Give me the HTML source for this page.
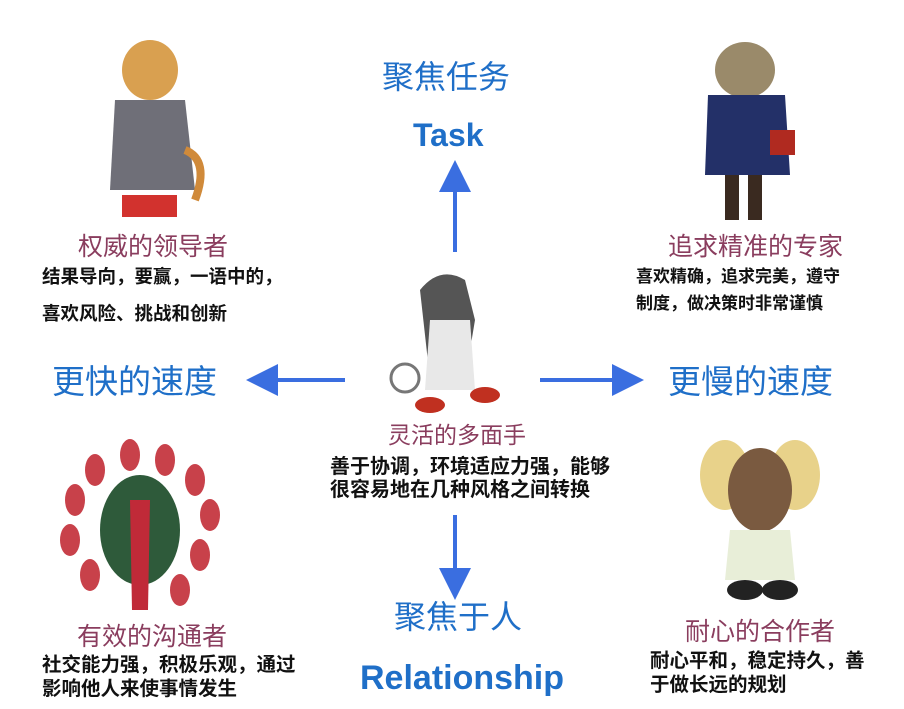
<!DOCTYPE html>
<html><head><meta charset="utf-8"><style>
body{margin:0;width:904px;height:709px;background:#fff;position:relative;overflow:hidden;font-family:"Liberation Sans","Noto Sans CJK SC",sans-serif}
.t{position:absolute;white-space:nowrap;line-height:1}
.h{color:#1f6fc8;font-size:33px}
.m{color:#8a3d5e;font-size:25px}
.b{color:#111;font-weight:bold}
</style></head><body>
<svg width="904" height="709" style="position:absolute;left:0;top:0">
<defs><marker id="a" markerWidth="8" markerHeight="8" refX="4" refY="4" orient="auto"><path d="M0,0L8,4L0,8z" fill="#3a6ee0"/></marker></defs>
<g stroke="#3a6ee0" stroke-width="4" fill="none">
<line x1="455" y1="252" x2="455" y2="176" marker-end="url(#a)"/>
<line x1="345" y1="380" x2="262" y2="380" marker-end="url(#a)"/>
<line x1="540" y1="380" x2="628" y2="380" marker-end="url(#a)"/>
<line x1="455" y1="515" x2="455" y2="584" marker-end="url(#a)"/>
</g>
<ellipse cx="150" cy="70" rx="28" ry="30" fill="#d9a050"/>
<path d="M115 100 L185 100 L195 190 L110 190z" fill="#6f6f78"/>
<rect x="122" y="195" width="55" height="22" fill="#d2322e"/>
<path d="M185 150 q25 10 10 50" stroke="#d08a3a" stroke-width="8" fill="none"/>
<ellipse cx="745" cy="70" rx="30" ry="28" fill="#9a8a6a"/>
<path d="M708 95 L785 95 L790 175 L705 175z" fill="#233068"/>
<rect x="725" y="175" width="14" height="45" fill="#3a2a20"/><rect x="748" y="175" width="14" height="45" fill="#3a2a20"/>
<rect x="770" y="130" width="25" height="25" fill="#b02a20"/>
<path d="M420 290 q20 -25 45 -10 l10 40 l-10 60 l-35 0z" fill="#555"/>
<path d="M430 320 L470 320 L475 390 L425 390z" fill="#e8e8e8"/>
<circle cx="405" cy="378" r="14" fill="none" stroke="#777" stroke-width="3"/>
<ellipse cx="430" cy="405" rx="15" ry="8" fill="#c03020"/><ellipse cx="485" cy="395" rx="15" ry="8" fill="#c03020"/>
<g fill="#c8414a">
<ellipse cx="75" cy="500" rx="10" ry="16"/><ellipse cx="95" cy="470" rx="10" ry="16"/><ellipse cx="130" cy="455" rx="10" ry="16"/><ellipse cx="165" cy="460" rx="10" ry="16"/><ellipse cx="195" cy="480" rx="10" ry="16"/><ellipse cx="210" cy="515" rx="10" ry="16"/><ellipse cx="70" cy="540" rx="10" ry="16"/><ellipse cx="90" cy="575" rx="10" ry="16"/><ellipse cx="200" cy="555" rx="10" ry="16"/><ellipse cx="180" cy="590" rx="10" ry="16"/>
</g>
<ellipse cx="140" cy="530" rx="40" ry="55" fill="#2e5a3a"/>
<path d="M130 500 L150 500 L148 610 L132 610z" fill="#c02a38"/>
<ellipse cx="725" cy="475" rx="25" ry="35" fill="#e8d28a"/><ellipse cx="795" cy="475" rx="25" ry="35" fill="#e8d28a"/>
<ellipse cx="760" cy="490" rx="32" ry="42" fill="#7a5a40"/>
<path d="M730 530 L790 530 L795 580 L725 580z" fill="#e8eed8"/>
<ellipse cx="745" cy="590" rx="18" ry="10" fill="#222"/><ellipse cx="780" cy="590" rx="18" ry="10" fill="#222"/>
</svg>
<div class="t h" style="left:382px;top:61px;font-size:32px">聚焦任务</div>
<div class="t" style="left:413px;top:119px;font-size:32px;font-weight:bold;color:#1f6fc8">Task</div>
<div class="t m" style="left:78px;top:235px">权威的领导者</div>
<div class="t b" style="left:42px;top:268px;font-size:18.5px">结果导向，要赢，一语中的，</div>
<div class="t b" style="left:42px;top:305px;font-size:18.5px">喜欢风险、挑战和创新</div>
<div class="t h" style="left:52px;top:365px">更快的速度</div>
<div class="t m" style="left:668px;top:235px">追求精准的专家</div>
<div class="t b" style="left:636px;top:268px;font-size:17px">喜欢精确，追求完美，遵守</div>
<div class="t b" style="left:636px;top:295px;font-size:17px">制度，做决策时非常谨慎</div>
<div class="t h" style="left:668px;top:365px">更慢的速度</div>
<div class="t m" style="left:388px;top:424px;font-size:23px">灵活的多面手</div>
<div class="t b" style="left:330px;top:457px;font-size:20px">善于协调，环境适应力强，能够</div>
<div class="t b" style="left:330px;top:480px;font-size:20px">很容易地在几种风格之间转换</div>
<div class="t h" style="left:394px;top:601px;font-size:32px">聚焦于人</div>
<div class="t" style="left:360px;top:661px;font-size:34px;font-weight:bold;color:#1f6fc8">Relationship</div>
<div class="t m" style="left:77px;top:625px">有效的沟通者</div>
<div class="t b" style="left:42px;top:656px;font-size:19.5px">社交能力强，积极乐观，通过</div>
<div class="t b" style="left:42px;top:680px;font-size:19.5px">影响他人来使事情发生</div>
<div class="t m" style="left:685px;top:620px">耐心的合作者</div>
<div class="t b" style="left:650px;top:652px;font-size:19.5px">耐心平和，稳定持久，善</div>
<div class="t b" style="left:650px;top:676px;font-size:19.5px">于做长远的规划</div>
</body></html>
